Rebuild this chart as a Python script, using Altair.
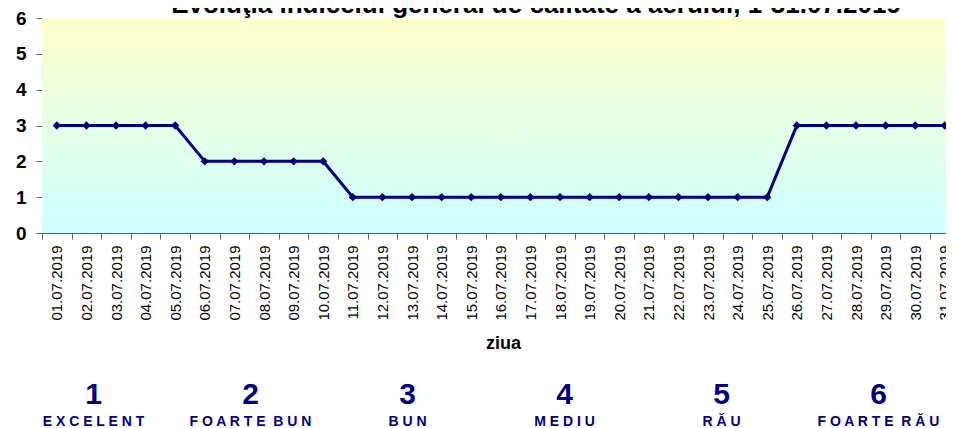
import altair as alt
import pandas as pd

# ---- data ----
dates = [f"{d:02d}.07.2019" for d in range(1, 32)]
days = list(range(1, 32))
aqi = [3, 3, 3, 3, 3,
       2, 2, 2, 2, 2,
       1, 1, 1, 1, 1, 1, 1, 1, 1, 1, 1, 1, 1, 1, 1,
       3, 3, 3, 3, 3, 3]
y_ticks = [0, 1, 2, 3, 4, 5, 6]
legend_nums = [1, 2, 3, 4, 5, 6]
legend_labels = ["EXCELENT", "FOARTE BUN", "BUN", "MEDIU", "RĂU", "FOARTE RĂU"]
title_text = "Evoluţia indicelui general de calitate a aerului, 1-31.07.2019"

FONT = "Liberation Sans"
NAVY = "#000080"
W, H = 904, 215

df = pd.DataFrame({"day": days, "aqi": aqi, "date": dates})


def spaced(s):
    return "\u00a0\u00a0".join(" ".join(list(w)) for w in s.split(" "))


legend_df = pd.DataFrame({
    "idx": legend_nums,
    "num": [str(n) for n in legend_nums],
    "label": [spaced(l) for l in legend_labels],
})

label_expr = "[" + ",".join(f"'{d}'" for d in dates) + "][datum.value - 0.5]"

x_scale = alt.Scale(domain=[0.5, 31.04], nice=False, zero=False)
y_scale = alt.Scale(domain=[0, 6], nice=False, zero=True)

x_axis = alt.Axis(
    values=[d - 0.5 for d in days],
    labelExpr=label_expr,
    labelOffset=14.8,
    labelAngle=270,
    labelAlign="right",
    labelBaseline="middle",
    labelFont=FONT,
    labelFontSize=15,
    labelColor="black",
    labelPadding=6,
    labelOverlap=False,
    labelFlush=False,
    tickSize=6,
    tickColor="#606060",
    domainColor="#606060",
    grid=False,
    title="ziua",
    titleFont=FONT,
    titleFontSize=18,
    titleFontWeight="bold",
    titleColor="black",
    titleX=461,
    titleY=115,
    titleBaseline="alphabetic",
    titleAnchor="middle",
    titleAlign="center",
)

y_axis = alt.Axis(
    values=y_ticks,
    grid=True,
    gridColor="#a0a0a0",
    gridWidth=1,
    domainColor="#808080",
    tickColor="#606060",
    tickSize=6,
    labelFont=FONT,
    labelFontSize=19,
    labelFontWeight="bold",
    labelColor="black",
    labelPadding=10,
    labelOverlap=False,
    title=None,
)

gradient = alt.Gradient(
    gradient="linear",
    stops=[alt.GradientStop(color="#FFFFCC", offset=0),
           alt.GradientStop(color="#CCFFFF", offset=1)],
    x1=0, x2=0, y1=0, y2=1,
)

bg = alt.Chart(df).mark_rect(fill=gradient, stroke=None).encode(
    x=alt.value(0), x2=alt.value(W), y=alt.value(0), y2=alt.value(H)
)

line = alt.Chart(df).mark_line(color=NAVY, strokeWidth=3).encode(
    x=alt.X("day:Q", scale=x_scale, axis=x_axis),
    y=alt.Y("aqi:Q", scale=y_scale, axis=y_axis),
)

points = alt.Chart(df).mark_point(
    shape="diamond", filled=True, size=70, color=NAVY, opacity=1
).encode(
    x=alt.X("day:Q", scale=x_scale, axis=x_axis),
    y=alt.Y("aqi:Q", scale=y_scale, axis=y_axis),
)

title = alt.Chart(pd.DataFrame({"t": [title_text]})).mark_text(
    font=FONT, fontSize=26, fontWeight="bold", color="black",
    align="center", baseline="alphabetic",
).encode(x=alt.value(494), y=alt.value(-5), text="t:N")

leg_scale = alt.Scale(domain=[0.5, 6.5], range=[-27, 915], nice=False, zero=False)

leg_nums = alt.Chart(legend_df).mark_text(
    font=FONT, fontSize=30, fontWeight="bold", color=NAVY, align="center",
    baseline="alphabetic",
).encode(
    x=alt.X("idx:Q", scale=leg_scale, axis=None),
    y=alt.value(386),
    text="num:N",
)

leg_labels = alt.Chart(legend_df).mark_text(
    font=FONT, fontSize=14, fontWeight="bold", color=NAVY, align="center",
    baseline="alphabetic",
).encode(
    x=alt.X("idx:Q", scale=leg_scale, axis=None),
    y=alt.value(408),
    text="label:N",
)

main = alt.layer(bg, line, points, title)
legend = alt.layer(leg_nums, leg_labels)

chart = alt.layer(main, legend).resolve_scale(x="independent").properties(
    width=W,
    height=H,
    padding={"left": 34, "top": 10, "right": 0, "bottom": 195},
    autosize=alt.AutoSizeParams(type="none"),
    background="white",
).configure_view(stroke=None)

chart.save("out.html", embed_options={"renderer": "svg", "actions": False})
